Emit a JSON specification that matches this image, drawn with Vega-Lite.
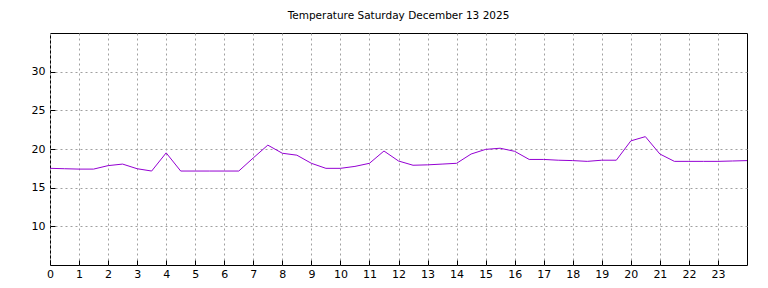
{
  "$schema": "https://vega.github.io/schema/vega-lite/v6.json",
  "width": 697,
  "height": 232,
  "autosize": {"type": "none"},
  "padding": {"left": 50, "top": 33, "right": 21, "bottom": 23},
  "background": "white",
  "title": {
    "text": "Temperature Saturday December 13 2025",
    "font": "DejaVu Sans",
    "fontSize": 10.5,
    "fontWeight": "normal",
    "color": "black",
    "anchor": "middle",
    "offset": 12
  },
  "config": {
    "view": {"stroke": "black", "strokeWidth": 1},
    "axis": {
      "labelFont": "DejaVu Sans",
      "labelFontSize": 11,
      "labelColor": "black",
      "labelFlush": false,
      "domain": false,
      "gridColor": "#a0a0a0",
      "gridDash": [2, 3],
      "gridWidth": 1,
      "tickColor": "black",
      "title": null
    }
  },
  "data": {
    "values": [
      {"hour": 0, "temp": 17.5},
      {"hour": 0.5, "temp": 17.45},
      {"hour": 1, "temp": 17.4},
      {"hour": 1.5, "temp": 17.4},
      {"hour": 2, "temp": 17.85},
      {"hour": 2.5, "temp": 18.05},
      {"hour": 3, "temp": 17.45},
      {"hour": 3.5, "temp": 17.15},
      {"hour": 4, "temp": 19.5},
      {"hour": 4.5, "temp": 17.15},
      {"hour": 5, "temp": 17.15},
      {"hour": 5.5, "temp": 17.15},
      {"hour": 6, "temp": 17.15},
      {"hour": 6.5, "temp": 17.15},
      {"hour": 7, "temp": 18.85},
      {"hour": 7.5, "temp": 20.5},
      {"hour": 8, "temp": 19.45},
      {"hour": 8.5, "temp": 19.2},
      {"hour": 9, "temp": 18.15},
      {"hour": 9.5, "temp": 17.5},
      {"hour": 10, "temp": 17.5},
      {"hour": 10.5, "temp": 17.75},
      {"hour": 11, "temp": 18.15},
      {"hour": 11.5, "temp": 19.74},
      {"hour": 12, "temp": 18.45},
      {"hour": 12.5, "temp": 17.9},
      {"hour": 13, "temp": 17.95},
      {"hour": 13.5, "temp": 18.05},
      {"hour": 14, "temp": 18.15},
      {"hour": 14.5, "temp": 19.35},
      {"hour": 15, "temp": 19.95},
      {"hour": 15.5, "temp": 20.1},
      {"hour": 16, "temp": 19.7},
      {"hour": 16.5, "temp": 18.65},
      {"hour": 17, "temp": 18.65},
      {"hour": 17.5, "temp": 18.55},
      {"hour": 18, "temp": 18.5},
      {"hour": 18.5, "temp": 18.4},
      {"hour": 19, "temp": 18.55},
      {"hour": 19.5, "temp": 18.55},
      {"hour": 20, "temp": 21.05},
      {"hour": 20.5, "temp": 21.6},
      {"hour": 21, "temp": 19.35},
      {"hour": 21.5, "temp": 18.4},
      {"hour": 22, "temp": 18.4},
      {"hour": 22.5, "temp": 18.4},
      {"hour": 23, "temp": 18.4},
      {"hour": 23.5, "temp": 18.45},
      {"hour": 24, "temp": 18.5}
    ]
  },
  "mark": {"type": "line", "color": "#9400D3", "strokeWidth": 1, "clip": true},
  "encoding": {
    "x": {
      "field": "hour",
      "type": "quantitative",
      "scale": {"domain": [0, 24], "nice": false, "zero": false},
      "axis": {
        "values": [0,1,2,3,4,5,6,7,8,9,10,11,12,13,14,15,16,17,18,19,20,21,22,23],
        "tickSize": -5,
        "labelPadding": 8,
        "format": "d"
      }
    },
    "y": {
      "field": "temp",
      "type": "quantitative",
      "scale": {"domain": [5, 35], "nice": false, "zero": false},
      "axis": {
        "values": [10, 15, 20, 25, 30],
        "tickSize": -5,
        "labelPadding": 10,
        "format": "d"
      }
    }
  }
}
